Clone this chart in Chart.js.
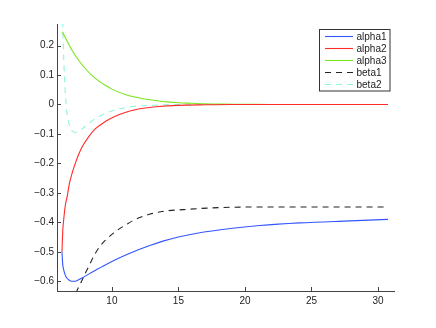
<!DOCTYPE html>
<html>
<head>
<meta charset="utf-8">
<script src="https://cdn.jsdelivr.net/npm/chart.js"></script>
<style>
  html, body { margin: 0; padding: 0; background: #fff; }
  #wrap { width: 436px; height: 328px; position: relative; }
</style>
</head>
<body>
<div id="wrap"><canvas id="plot"></canvas></div>
<script>
// 축 눈금
var xTicks = [10, 15, 20, 25, 30];
var yTicks = [-0.6, -0.5, -0.4, -0.3, -0.2, -0.1, 0, 0.1, 0.2];

// alpha1 (blue)
var alpha1X = [6.25, 6.3, 6.4, 6.5, 6.6, 6.75, 6.9, 7.05, 7.2, 7.4, 7.75, 8.4, 9.0, 9.4, 10, 10.75, 11.4, 12.9, 13.9, 15, 16.4, 18.9, 21.1, 24.1, 27.9, 30.75];
var alpha1Y = [-0.50, -0.54, -0.565, -0.58, -0.588, -0.595, -0.599, -0.600, -0.600, -0.597, -0.589, -0.572, -0.557, -0.547, -0.533, -0.517, -0.504, -0.478, -0.463, -0.450, -0.437, -0.421, -0.411, -0.402, -0.395, -0.390];

// alpha2 (red)
var alpha2X = [6.25, 6.28, 6.32, 6.38, 6.45, 6.55, 6.65, 6.8, 7.0, 7.25, 7.5, 7.75, 8.25, 8.75, 9.5, 10.25, 11, 11.75, 12.5, 13.5, 15, 17, 19, 22, 26, 30.75];
var alpha2Y = [-0.50, -0.46, -0.42, -0.39, -0.36, -0.33, -0.31, -0.27, -0.235, -0.20, -0.17, -0.145, -0.11, -0.083, -0.058, -0.040, -0.027, -0.018, -0.012, -0.007, -0.003, -0.001, 0, 0, 0, 0];

// alpha3 (green)
var alpha3X = [6.28, 6.5, 7, 7.5, 8, 8.5, 9, 9.5, 10, 11, 12, 13, 14, 15, 16, 17, 18, 20, 22, 26, 30.75];
var alpha3Y = [0.247, 0.227, 0.184, 0.15, 0.122, 0.099, 0.08, 0.065, 0.052, 0.034, 0.023, 0.015, 0.009, 0.006, 0.004, 0.002, 0.001, 0.0005, 0, 0, 0];

// beta1 (black dashed)
var beta1X = [7.3, 7.5, 7.75, 8.0, 8.25, 8.5, 8.75, 9.12, 9.5, 10.0, 10.5, 11, 11.62, 12.25, 12.87, 14.12, 15.37, 16.62, 18.87, 21, 25, 30.75];
var beta1Y = [-0.64, -0.62, -0.597, -0.573, -0.551, -0.527, -0.506, -0.480, -0.461, -0.441, -0.424, -0.410, -0.393, -0.381, -0.372, -0.361, -0.357, -0.353, -0.349, -0.348, -0.348, -0.348];

// beta2 (cyan dashed)
var beta2X = [6.28, 6.35, 6.42, 6.5, 6.6, 6.7, 6.85, 7.0, 7.3, 7.75, 8.25, 8.75, 9.5, 10.25, 11, 11.75, 13, 14, 16, 20, 25, 30.75];
var beta2Y = [0.32, 0.2, 0.11, 0.04, -0.02, -0.05, -0.077, -0.09, -0.095, -0.083, -0.065, -0.048, -0.031, -0.018, -0.011, -0.006, -0.003, -0.001, 0, 0, 0, 0];

function pts(xs, ys) {
    var out = [];
    for (var i = 0; i < xs.length; i++) out.push({x: xs[i], y: ys[i]});
    return out;
}

function series(label, xs, ys, color, dash) {
    return {
        label: label,
        data: pts(xs, ys),
        borderColor: color,
        borderWidth: 1.1,
        borderDash: dash || [],
        pointRadius: 0,
        fill: false,
        cubicInterpolationMode: 'monotone'
    };
}

var fontFamily = '"Liberation Sans", Arial, Helvetica, sans-serif';

// 안쪽 눈금 + 범례
var matlabAxes = {
    id: 'matlabAxes',
    afterDraw: function(chart) {
        var ctx = chart.ctx;
        var a = chart.chartArea;
        var xs = chart.scales.x, ys = chart.scales.y;
        ctx.save();
        ctx.strokeStyle = '#444';
        ctx.lineWidth = 1;
        ctx.beginPath();
        xTicks.forEach(function(v) {
            var px = Math.round(xs.getPixelForValue(v)) + 0.5;
            ctx.moveTo(px, a.bottom);
            ctx.lineTo(px, a.bottom - 4);
        });
        yTicks.forEach(function(v) {
            var py = Math.round(ys.getPixelForValue(v)) + 0.5;
            ctx.moveTo(a.left, py);
            ctx.lineTo(a.left + 4, py);
        });
        ctx.stroke();

        // legend box
        var bx = 319.5, by = 29.5, bw = 70.5, bh = 61.5;
        ctx.fillStyle = '#fff';
        ctx.fillRect(bx, by, bw, bh);
        ctx.strokeStyle = '#333';
        ctx.strokeRect(bx, by, bw, bh);
        ctx.font = '10px ' + fontFamily;
        ctx.textBaseline = 'middle';
        chart.data.datasets.forEach(function(ds, i) {
            var ly = Math.round(35.7 + i * 12.1) + 0.5;
            ctx.beginPath();
            ctx.strokeStyle = ds.borderColor;
            ctx.lineWidth = 1.1;
            ctx.setLineDash(ds.borderDash);
            ctx.moveTo(325, ly);
            ctx.lineTo(353, ly);
            ctx.stroke();
            ctx.setLineDash([]);
            ctx.fillStyle = '#222';
            ctx.fillText(ds.label, 356.5, ly + 0.5);
        });
        ctx.restore();
    }
};

var ctx = document.getElementById('plot').getContext('2d');
var chart = new Chart(ctx, {
    type: 'line',
    data: {
        datasets: [
            series('alpha1', alpha1X, alpha1Y, '#3355ff'),
            series('alpha2', alpha2X, alpha2Y, '#ff2a2a'),
            series('alpha3', alpha3X, alpha3Y, '#77e61a'),
            series('beta1', beta1X, beta1Y, '#222222', [6, 5]),
            series('beta2', beta2X, beta2Y, '#8ff5dc', [6, 5])
        ]
    },
    options: {
        responsive: true,
        maintainAspectRatio: false,
        animation: false,
        layout: { padding: { left: 0, top: 24, right: 42, bottom: 0 } },
        plugins: {
            legend: { display: false },
            tooltip: { enabled: false }
        },
        scales: {
            x: {
                type: 'linear',
                min: 5.875,
                max: 31.2,
                afterBuildTicks: function(s) { s.ticks = xTicks.map(function(v) { return {value: v}; }); },
                afterFit: function(s) { s.height = 37; },
                grid: { display: true, drawOnChartArea: false, drawTicks: false },
                border: { display: true, color: '#444', width: 1 },
                ticks: {
                    padding: 4,
                    color: '#222',
                    font: { size: 10, family: fontFamily },
                    maxRotation: 0,
                    callback: function(v) { return String(v); }
                }
            },
            y: {
                type: 'linear',
                min: -0.633,
                max: 0.273,
                afterBuildTicks: function(s) { s.ticks = yTicks.map(function(v) { return {value: v}; }); },
                afterFit: function(s) { s.width = 57; },
                grid: { display: true, drawOnChartArea: false, drawTicks: false },
                border: { display: true, color: '#444', width: 1 },
                ticks: {
                    padding: 3,
                    color: '#222',
                    font: { size: 10, family: fontFamily },
                    callback: function(v) {
                        var t = Math.abs(v) < 1e-9 ? '0' : String(Math.round(v * 10) / 10);
                        return t.replace('-', '\u2212');
                    }
                }
            }
        }
    },
    plugins: [matlabAxes]
});
</script>
</body>
</html>
